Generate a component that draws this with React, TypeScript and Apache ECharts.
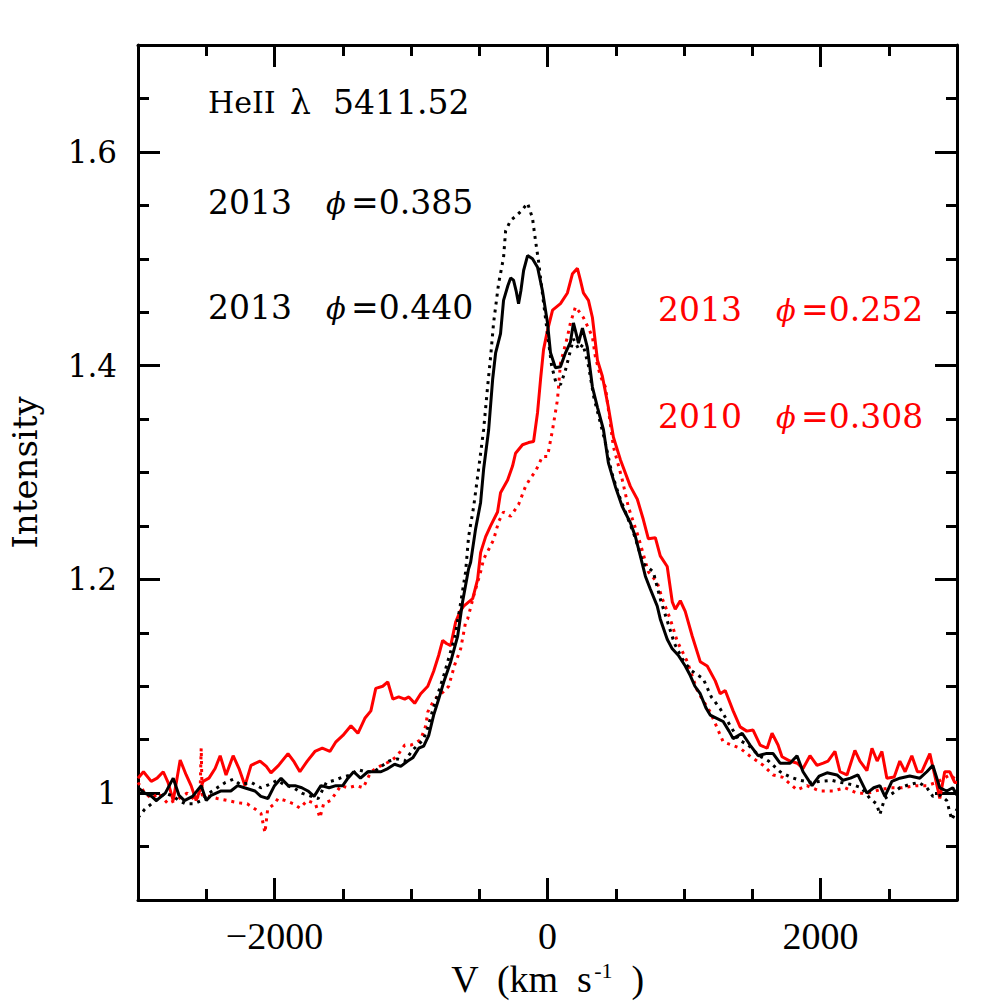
import React, { useEffect, useRef } from "react";
import * as echarts from "echarts";

// Velocity (km/s) and intensity for each spectrum.
// 2013 phi=0.440 (black solid)
const vel440 = [-3000,-2950,-2900,-2866,-2800,-2742,-2700,-2660,-2600,-2537,-2500,-2464,-2391,-2320,-2270,-2220,-2143,-2100,-2048,-2000,-1952,-1900,-1850,-1800,-1755,-1710,-1660,-1600,-1550,-1500,-1462,-1420,-1370,-1316,-1270,-1220,-1170,-1120,-1075,-1024,-987,-943,-907,-870,-834,-797,-760,-709,-658,-622,-578,-563,-527,-490,-468,-431,-402,-380,-344,-322,-290,-270,-249,-230,-212,-195,-175,-146,-110,-73,-37,0,22,58,95,132,168,190,210,227,256,292,329,366,410,446,497,548,607,644,680,717,753,804,826,877,914,958,1009,1046,1080,1119,1160,1192,1240,1287,1330,1360,1426,1484,1543,1600,1653,1704,1777,1828,1872,1938,1990,2048,2121,2165,2220,2274,2340,2390,2435,2472,2523,2581,2654,2728,2779,2823,2874,2925,2969,3000];
const int440 = [1.005,1.0,0.997,0.993,1.0,1.014,0.998,0.993,0.997,1.007,0.993,0.998,1.002,1.002,1.007,1.005,1.002,0.997,0.995,1.007,1.014,1.007,1.007,1.005,1.002,0.997,1.007,1.005,1.007,1.007,1.014,1.02,1.014,1.02,1.02,1.02,1.023,1.027,1.025,1.03,1.033,1.042,1.044,1.054,1.073,1.088,1.104,1.123,1.147,1.179,1.21,1.216,1.247,1.272,1.303,1.34,1.387,1.412,1.43,1.461,1.475,1.482,1.48,1.47,1.458,1.47,1.489,1.503,1.5,1.492,1.47,1.44,1.412,1.398,1.399,1.412,1.422,1.44,1.43,1.421,1.435,1.417,1.38,1.361,1.34,1.309,1.287,1.268,1.253,1.24,1.222,1.203,1.191,1.175,1.163,1.144,1.135,1.129,1.119,1.11,1.1,1.093,1.08,1.073,1.07,1.067,1.058,1.051,1.056,1.045,1.035,1.037,1.037,1.028,1.028,1.035,1.02,1.007,1.016,1.019,1.017,1.012,1.014,1.017,1.0,1.005,1.007,0.997,1.011,1.014,1.016,1.014,1.02,1.026,1.005,1.002,1.005,0.998];

// 2013 phi=0.385 (black dotted)
const vel385 = [-3000,-2950,-2900,-2850,-2800,-2740,-2700,-2650,-2590,-2537,-2480,-2420,-2360,-2303,-2250,-2170,-2100,-2040,-1980,-1930,-1860,-1800,-1730,-1680,-1620,-1560,-1500,-1440,-1390,-1330,-1270,-1220,-1160,-1100,-1046,-990,-950,-910,-880,-840,-800,-760,-720,-680,-640,-600,-578,-541,-505,-468,-439,-417,-395,-358,-322,-307,-270,-230,-190,-146,-110,-88,-66,-30,0,30,60,95,130,160,190,230,260,300,340,380,420,470,520,580,640,700,775,830,880,930,990,1050,1141,1200,1265,1330,1400,1470,1550,1620,1704,1780,1850,1930,1996,2080,2150,2230,2300,2362,2410,2435,2470,2530,2581,2650,2720,2780,2823,2880,2925,2962,3000];
const int385 = [0.977,0.985,0.99,0.995,1.0,0.997,0.993,0.99,0.99,0.993,1.0,1.005,1.01,1.013,1.008,1.01,1.005,1.008,1.012,1.008,1.005,1.0,0.997,0.995,1.01,1.012,1.015,1.017,1.022,1.02,1.02,1.025,1.03,1.032,1.03,1.04,1.045,1.05,1.06,1.078,1.094,1.11,1.128,1.145,1.175,1.207,1.24,1.268,1.303,1.34,1.38,1.408,1.44,1.477,1.501,1.526,1.536,1.54,1.545,1.552,1.538,1.517,1.498,1.46,1.43,1.4,1.385,1.382,1.395,1.41,1.425,1.415,1.42,1.4,1.37,1.35,1.33,1.3,1.28,1.26,1.24,1.215,1.207,1.18,1.16,1.14,1.125,1.115,1.107,1.09,1.079,1.065,1.05,1.045,1.035,1.03,1.02,1.015,1.012,1.01,1.011,1.012,1.01,1.008,1.005,0.995,0.99,0.98,0.995,1.0,1.005,1.008,1.01,1.005,0.997,0.998,0.993,0.975,0.985];

// 2013 phi=0.252 (red solid)
const vel252 = [-3000,-2960,-2903,-2860,-2815,-2780,-2742,-2691,-2647,-2611,-2574,-2523,-2480,-2435,-2398,-2355,-2303,-2260,-2216,-2172,-2106,-2060,-2026,-1970,-1901,-1860,-1814,-1760,-1704,-1650,-1594,-1550,-1499,-1440,-1389,-1338,-1294,-1258,-1207,-1170,-1133,-1090,-1046,-1016,-973,-929,-877,-834,-797,-768,-740,-709,-673,-640,-614,-548,-512,-490,-453,-417,-366,-344,-292,-256,-234,-183,-139,-102,-73,-51,-29,0,37,95,146,183,219,241,263,300,329,366,402,446,483,534,607,658,702,739,790,826,877,914,936,973,1009,1060,1119,1170,1229,1265,1302,1360,1411,1460,1506,1558,1609,1645,1689,1718,1777,1830,1872,1923,1974,2020,2055,2106,2143,2194,2252,2289,2340,2377,2415,2450,2486,2540,2581,2620,2669,2710,2742,2801,2840,2874,2910,2947,2983,3000];
const int252 = [1.014,1.02,1.011,1.014,1.02,1.01,0.993,1.031,1.017,1.007,0.993,1.011,1.014,1.023,1.035,1.017,1.035,1.023,1.007,1.026,1.03,1.025,1.019,1.026,1.037,1.03,1.02,1.03,1.039,1.042,1.039,1.048,1.054,1.063,1.056,1.07,1.077,1.098,1.1,1.104,1.088,1.09,1.088,1.09,1.084,1.093,1.1,1.114,1.129,1.143,1.14,1.138,1.16,1.17,1.175,1.182,1.2,1.225,1.24,1.25,1.263,1.281,1.293,1.306,1.318,1.326,1.328,1.329,1.356,1.387,1.415,1.433,1.452,1.458,1.468,1.486,1.491,1.48,1.468,1.461,1.445,1.405,1.39,1.361,1.333,1.312,1.287,1.275,1.256,1.238,1.239,1.222,1.212,1.179,1.172,1.18,1.17,1.147,1.123,1.119,1.105,1.093,1.096,1.077,1.062,1.058,1.059,1.045,1.042,1.056,1.045,1.034,1.03,1.028,1.023,1.035,1.026,1.028,1.03,1.039,1.02,1.017,1.04,1.03,1.021,1.042,1.03,1.039,1.014,1.015,1.03,1.02,1.035,1.02,1.02,1.037,1.015,0.995,1.02,1.02,1.01,1.01];

// 2010 phi=0.308 (red dotted)
const vel308 = [-3000,-2950,-2900,-2850,-2780,-2700,-2640,-2580,-2545,-2537,-2530,-2480,-2420,-2340,-2267,-2200,-2140,-2099,-2070,-2050,-2000,-1974,-1920,-1860,-1814,-1760,-1700,-1667,-1640,-1590,-1550,-1514,-1460,-1400,-1350,-1294,-1230,-1148,-1100,-1046,-1000,-965,-930,-892,-877,-840,-804,-760,-724,-680,-636,-600,-585,-540,-490,-468,-431,-395,-358,-322,-270,-212,-161,-124,-88,-37,0,37,73,95,146,168,205,235,263,300,329,351,388,424,483,548,592,665,739,804,841,899,951,1024,1100,1192,1287,1350,1411,1480,1580,1653,1720,1828,1900,1996,2092,2180,2267,2350,2430,2508,2600,2700,2779,2850,2947,3000];
const int308 = [1.01,1.0,0.995,1.0,0.99,0.995,1.0,0.993,1.0,1.042,0.998,0.997,0.995,0.993,0.991,0.99,0.985,0.981,0.963,0.985,0.99,0.995,0.993,0.99,0.986,0.993,0.99,0.977,0.99,0.993,1.0,1.007,1.005,1.007,1.005,1.02,1.025,1.03,1.035,1.045,1.045,1.047,1.05,1.063,1.076,1.085,1.091,1.095,1.1,1.12,1.135,1.16,1.163,1.185,1.207,1.219,1.228,1.237,1.254,1.263,1.259,1.27,1.287,1.295,1.301,1.315,1.315,1.34,1.368,1.402,1.427,1.44,1.455,1.45,1.445,1.435,1.427,1.408,1.39,1.38,1.324,1.293,1.268,1.24,1.207,1.197,1.182,1.163,1.142,1.123,1.095,1.076,1.048,1.045,1.042,1.035,1.026,1.017,1.015,1.003,1.007,1.002,1.002,1.005,1.0,1.0,1.003,1.005,1.005,1.007,1.007,1.01,1.017,1.012];

const xMajorTicks = [-2000, 0, 2000];
const yMajorTicks = [1.0, 1.2, 1.4, 1.6];

const BLACK = "#000000";
const RED = "#ff0000";
const SERIF = "DejaVu Serif";
const TIMES = "Liberation Serif";

const zip = (xs: number[], ys: number[]) => xs.map((x, i) => [x, ys[i]]);

const majorLen = 22;
const minorLen = 11;

function xAxisDef(pos: "bottom" | "top", major: boolean, showLabel: boolean) {
  return {
    type: "value",
    min: -3000,
    max: 3000,
    position: pos,
    ...(major ? {} : { interval: 500 }),
    axisLine: { show: major, onZero: false, lineStyle: { color: BLACK, width: 3 } },
    axisTick: {
      show: true,
      inside: true,
      length: major ? majorLen : minorLen,
      lineStyle: { color: BLACK, width: 3 },
      ...(major ? { customValues: xMajorTicks } : {}),
    },
    axisLabel: showLabel
      ? {
          show: true,
          customValues: xMajorTicks,
          margin: 17,
          color: BLACK,
          fontFamily: TIMES,
          fontSize: 38,
          formatter: (v: number) => (v < 0 ? "\u2212" + Math.abs(v) : String(v)),
        }
      : { show: false },
    splitLine: { show: false },
  };
}

function yAxisDef(pos: "left" | "right", major: boolean, showLabel: boolean) {
  return {
    type: "value",
    min: 0.9,
    max: 1.7,
    position: pos,
    ...(major ? {} : { interval: 0.05 }),
    axisLine: { show: major, onZero: false, lineStyle: { color: BLACK, width: 3 } },
    axisTick: {
      show: true,
      inside: true,
      length: major ? majorLen : minorLen,
      lineStyle: { color: BLACK, width: 3 },
      ...(major ? { customValues: yMajorTicks } : {}),
    },
    axisLabel: showLabel
      ? {
          show: true,
          customValues: yMajorTicks,
          margin: 21,
          color: BLACK,
          fontFamily: SERIF,
          fontSize: 31,
          formatter: (v: number) => (Math.abs(v - 1) < 1e-9 ? "1" : v.toFixed(1)),
        }
      : { show: false },
    splitLine: { show: false },
  };
}

function txt(x: number, y: number, text: string, color: string, italic = false, size = 33) {
  return {
    type: "text",
    x,
    y,
    style: {
      text,
      fill: color,
      font: `${italic ? "italic " : ""}${size}px '${SERIF}'`,
      align: "left",
      verticalAlign: "middle",
    },
  };
}

export default function App() {
  const ref = useRef<HTMLDivElement>(null);
  useEffect(() => {
    if (!ref.current) return;
    document.body.style.margin = "0";
    const chart = echarts.init(ref.current, null, { renderer: "svg", width: 1008, height: 1008 });
    const xMain: any = xAxisDef("bottom", true, true);
    xMain.name = "{a|V  (km  s}{b|-1}{a|  )}";
    xMain.nameLocation = "middle";
    xMain.nameGap = 55;
    xMain.nameTextStyle = {
      rich: {
        a: { fontFamily: TIMES, fontSize: 38, color: BLACK },
        b: { fontFamily: TIMES, fontSize: 22, color: BLACK, verticalAlign: "top", padding: [0, 0, 14, 2] },
      },
    };
    const yMain: any = yAxisDef("left", true, true);
    yMain.name = "Intensity";
    yMain.nameLocation = "middle";
    yMain.nameGap = 96;
    yMain.nameTextStyle = { fontFamily: SERIF, fontSize: 34, color: BLACK };

    const option: any = {
      animation: false,
      backgroundColor: "#ffffff",
      grid: { left: 137, right: 51, top: 45, bottom: 108, containLabel: false },
      xAxis: [
        xMain,
        xAxisDef("bottom", false, false),
        xAxisDef("top", true, false),
        xAxisDef("top", false, false),
      ],
      yAxis: [
        yMain,
        yAxisDef("left", false, false),
        yAxisDef("right", true, false),
        yAxisDef("right", false, false),
      ],
      series: [
        {
          name: "2010 phi=0.308",
          type: "line",
          data: zip(vel308, int308),
          showSymbol: false,
          symbol: "none",
          lineStyle: { color: RED, width: 3, type: [3, 5] },
        },
        {
          name: "2013 phi=0.252",
          type: "line",
          data: zip(vel252, int252),
          showSymbol: false,
          symbol: "none",
          lineStyle: { color: RED, width: 3 },
        },
        {
          name: "2013 phi=0.385",
          type: "line",
          data: zip(vel385, int385),
          showSymbol: false,
          symbol: "none",
          lineStyle: { color: BLACK, width: 3, type: [3, 5] },
        },
        {
          name: "2013 phi=0.440",
          type: "line",
          data: zip(vel440, int440),
          showSymbol: false,
          symbol: "none",
          lineStyle: { color: BLACK, width: 3 },
        },
      ],
      graphic: [
        txt(208, 102, "HeII", BLACK, false, 30),
        txt(290, 102, "\u03bb", BLACK),
        txt(333, 102, "5411.52", BLACK),
        txt(208, 202, "2013", BLACK),
        txt(326, 204, "\u03d5", BLACK, true, 29),
        txt(351, 202, "=0.385", BLACK),
        txt(208, 307, "2013", BLACK),
        txt(326, 309, "\u03d5", BLACK, true, 29),
        txt(351, 307, "=0.440", BLACK),
        txt(658, 309, "2013", RED),
        txt(776, 311, "\u03d5", RED, true, 29),
        txt(801, 309, "=0.252", RED),
        txt(658, 416, "2010", RED),
        txt(776, 418, "\u03d5", RED, true, 29),
        txt(801, 416, "=0.308", RED),
      ],
    };
    chart.setOption(option);
    return () => chart.dispose();
  }, []);
  return (
    <div
      ref={ref}
      style={{ position: "fixed", left: 0, top: 0, width: 1008, height: 1008, background: "#ffffff" }}
    />
  );
}
